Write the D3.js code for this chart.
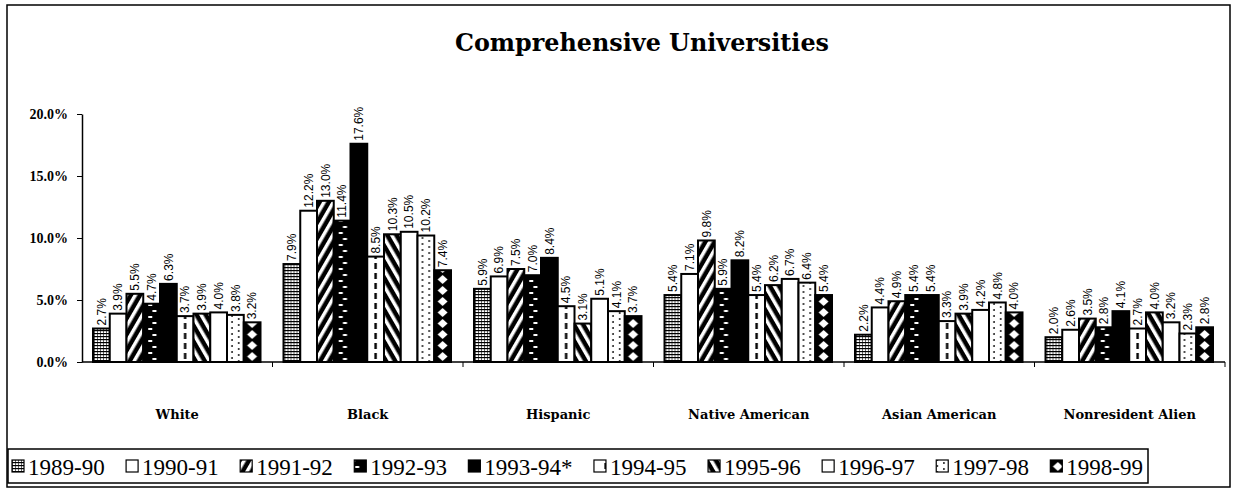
<!DOCTYPE html>
<html>
<head>
<meta charset="utf-8">
<script src="https://cdn.jsdelivr.net/npm/d3@7"></script>
<style>
  body { margin: 0; background: #fff; }
  svg { display: block; }
</style>
</head>
<body>
<div class="chart"></div>
<script>
// chart data
var categories = ["White", "Black", "Hispanic", "Native American", "Asian American", "Nonresident Alien"];
var years = ["1989-90", "1990-91", "1991-92", "1992-93", "1993-94*", "1994-95", "1995-96", "1996-97", "1997-98", "1998-99"];

var white = [2.7, 3.9, 5.5, 4.7, 6.3, 3.7, 3.9, 4.0, 3.8, 3.2];
var black = [7.9, 12.2, 13.0, 11.4, 17.6, 8.5, 10.3, 10.5, 10.2, 7.4];
var hispanic = [5.9, 6.9, 7.5, 7.0, 8.4, 4.5, 3.1, 5.1, 4.1, 3.7];
var nativeAmerican = [5.4, 7.1, 9.8, 5.9, 8.2, 5.4, 6.2, 6.7, 6.4, 5.4];
var asianAmerican = [2.2, 4.4, 4.9, 5.4, 5.4, 3.3, 3.9, 4.2, 4.8, 4.0];
var nonresidentAlien = [2.0, 2.6, 3.5, 2.8, 4.1, 2.7, 4.0, 3.2, 2.3, 2.8];

var yTicks = [0, 5, 10, 15, 20];

var rows = [white, black, hispanic, nativeAmerican, asianAmerican, nonresidentAlien];

var svgWidth = 1233, svgHeight = 490;

var svg = d3.select(".chart")
  .append("svg")
  .attr("width", svgWidth)
  .attr("height", svgHeight);

// outer frame
svg.append("rect")
  .attr("x", 7).attr("y", 5)
  .attr("width", 1223).attr("height", 482)
  .attr("fill", "none").attr("stroke", "#000").attr("stroke-width", 1.5);

// title
svg.append("text")
  .attr("x", 642).attr("y", 51)
  .attr("text-anchor", "middle")
  .attr("textLength", 374)
  .attr("lengthAdjust", "spacingAndGlyphs")
  .style("font-family", "'DejaVu Serif', serif")
  .style("font-weight", "bold")
  .style("font-size", "25px")
  .text("Comprehensive Universities");

// scales
var x0 = d3.scaleBand().domain(categories).range([82, 1225]);
var x1 = d3.scaleBand().domain(years).range([11, x0.bandwidth() - 12]);
var y = d3.scaleLinear().domain([0, 20]).range([362, 114]);

// patterns (userSpaceOnUse, bars sit in groups translated by x0 so columns line up)
var defs = svg.append("defs");
var bw = x1.bandwidth();
var base = y(0);

function pat(id, w, h, px, py, transform) {
  var p = defs.append("pattern")
    .attr("id", id)
    .attr("patternUnits", "userSpaceOnUse")
    .attr("width", w).attr("height", h)
    .attr("x", px || 0).attr("y", py || 0);
  if (transform) p.attr("patternTransform", transform);
  return p;
}

// 1989-90 fine horizontal hatching
var p0 = pat("p0", 3, 3);
p0.append("rect").attr("width", 3).attr("height", 3).attr("fill", "#fff");
p0.append("rect").attr("width", 3).attr("height", 1.2).attr("fill", "#000");
p0.append("rect").attr("width", 0.6).attr("height", 3).attr("fill", "#000");

// 1991-92 "/" stripes
var p2 = pat("p2", 8, 8, 0, 0, "rotate(30)");
p2.append("rect").attr("width", 8).attr("height", 8).attr("fill", "#000");
p2.append("rect").attr("width", 3.5).attr("height", 8).attr("fill", "#fff");

// 1992-93 black with white dashes
var p3 = pat("p3", bw, 12, x1(years[3]), base);
p3.append("rect").attr("width", bw).attr("height", 12).attr("fill", "#000");
p3.append("rect").attr("x", bw * 0.3).attr("y", 2).attr("width", 4).attr("height", 2).attr("fill", "#fff");
p3.append("rect").attr("x", bw * 0.55).attr("y", 8).attr("width", 4).attr("height", 2).attr("fill", "#fff");

// 1994-95 white with a dashed centre line
var p5 = pat("p5", bw, 10, x1(years[5]), base);
p5.append("rect").attr("width", bw).attr("height", 10).attr("fill", "#fff");
p5.append("rect").attr("x", bw / 2 - 1.2).attr("y", 1).attr("width", 2.4).attr("height", 6).attr("fill", "#000");

// 1995-96 "\" stripes
var p6 = pat("p6", 8, 8, 0, 0, "rotate(-30)");
p6.append("rect").attr("width", 8).attr("height", 8).attr("fill", "#000");
p6.append("rect").attr("width", 3.5).attr("height", 8).attr("fill", "#fff");

// 1997-98 dots
var p8 = pat("p8", bw, 6, x1(years[8]), base);
p8.append("rect").attr("width", bw).attr("height", 6).attr("fill", "#fff");
p8.append("circle").attr("cx", bw * 0.3).attr("cy", 2).attr("r", 0.9).attr("fill", "#000");
p8.append("circle").attr("cx", bw * 0.7).attr("cy", 5).attr("r", 0.9).attr("fill", "#000");

// 1998-99 black with white diamonds
var p9 = pat("p9", bw, 11, x1(years[9]), base);
p9.append("rect").attr("width", bw).attr("height", 11).attr("fill", "#000");
p9.append("path")
  .attr("d", "M" + (bw / 2) + ",1 L" + (bw / 2 + 5) + ",5.5 L" + (bw / 2) + ",10 L" + (bw / 2 - 5) + ",5.5 Z")
  .attr("fill", "#fff");

var fills = ["url(#p0)", "#fff", "url(#p2)", "url(#p3)", "#000", "url(#p5)", "url(#p6)", "#fff", "url(#p8)", "url(#p9)"];

// y axis
var yAxis = d3.axisLeft(y)
  .tickValues(yTicks)
  .tickSize(5)
  .tickSizeOuter(0)
  .tickPadding(9)
  .tickFormat(d => d.toFixed(1) + "%");

var yG = svg.append("g")
  .attr("transform", "translate(82,0)")
  .call(yAxis);
yG.select(".domain").attr("stroke-width", 1.5);
yG.selectAll("text")
  .style("font-family", "'Liberation Serif', serif")
  .style("font-weight", "bold")
  .style("font-size", "14px")
  .attr("fill", "#000");

// bars
var catGroups = svg.selectAll(".cat")
  .data(categories)
  .enter()
  .append("g")
  .attr("class", "cat")
  .attr("transform", d => "translate(" + x0(d) + ",0)");

catGroups.selectAll("rect")
  .data((d, i) => rows[i].map((v, j) => ({ year: years[j], value: v, idx: j })))
  .enter()
  .append("rect")
  .attr("x", d => x1(d.year))
  .attr("y", d => y(d.value))
  .attr("width", bw)
  .attr("height", d => y(0) - y(d.value))
  .attr("fill", d => fills[d.idx])
  .attr("stroke", "#000")
  .attr("stroke-width", 2);

// value labels, rotated
catGroups.selectAll(".val")
  .data((d, i) => rows[i].map((v, j) => ({ year: years[j], value: v })))
  .enter()
  .append("text")
  .attr("class", "val")
  .attr("transform", d => "translate(" + (x1(d.year) + bw / 2) + "," + (y(d.value) - 3) + ") rotate(-90)")
  .attr("dy", "0.35em")
  .style("font-family", "'Liberation Sans', Arial, sans-serif")
  .style("font-size", "12px")
  .text(d => d.value.toFixed(1) + "%");

// x axis line with boundary ticks
var xG = svg.append("g");
xG.append("line")
  .attr("x1", 82).attr("x2", x0.range()[1])
  .attr("y1", y(0)).attr("y2", y(0))
  .attr("stroke", "#000").attr("stroke-width", 1.5);
xG.selectAll(".xtick")
  .data(categories.slice(1).map(c => x0(c)).concat([x0.range()[1]]))
  .enter()
  .append("line")
  .attr("x1", d => d).attr("x2", d => d)
  .attr("y1", y(0)).attr("y2", y(0) + 5)
  .attr("stroke", "#000").attr("stroke-width", 1);

xG.selectAll(".cat-label")
  .data(categories)
  .enter()
  .append("text")
  .attr("x", d => x0(d) + x0.bandwidth() / 2)
  .attr("y", 419)
  .attr("text-anchor", "middle")
  .style("font-family", "'DejaVu Serif', serif")
  .style("font-weight", "bold")
  .style("font-size", "13px")
  .text(d => d);

// legend
var legend = svg.append("g");
legend.append("rect")
  .attr("x", 8).attr("y", 449)
  .attr("width", 1140).attr("height", 34)
  .attr("fill", "#fff").attr("stroke", "#000").attr("stroke-width", 1.5);

var items = legend.selectAll(".item")
  .data(years)
  .enter()
  .append("g")
  .attr("class", "item");

items.append("rect")
  .attr("width", 12).attr("height", 12)
  .attr("y", 460)
  .attr("fill", (d, i) => fills[i])
  .attr("stroke", "#000").attr("stroke-width", 1.2);

items.append("text")
  .attr("y", 475)
  .style("font-family", "'Liberation Serif', serif")
  .style("font-size", "23px")
  .text(d => d);

// spread the items so the row fills the box
var widths = [];
items.select("text").each(function() { widths.push(this.getComputedTextLength() + 16); });
var startX = 12, endX = 1143;
var gap = (endX - startX - d3.sum(widths)) / (years.length - 1);
var cursor = startX;
items.each(function(d, i) {
  d3.select(this).select("rect").attr("x", cursor);
  d3.select(this).select("text").attr("x", cursor + 16);
  cursor += widths[i] + gap;
});
</script>
</body>
</html>
